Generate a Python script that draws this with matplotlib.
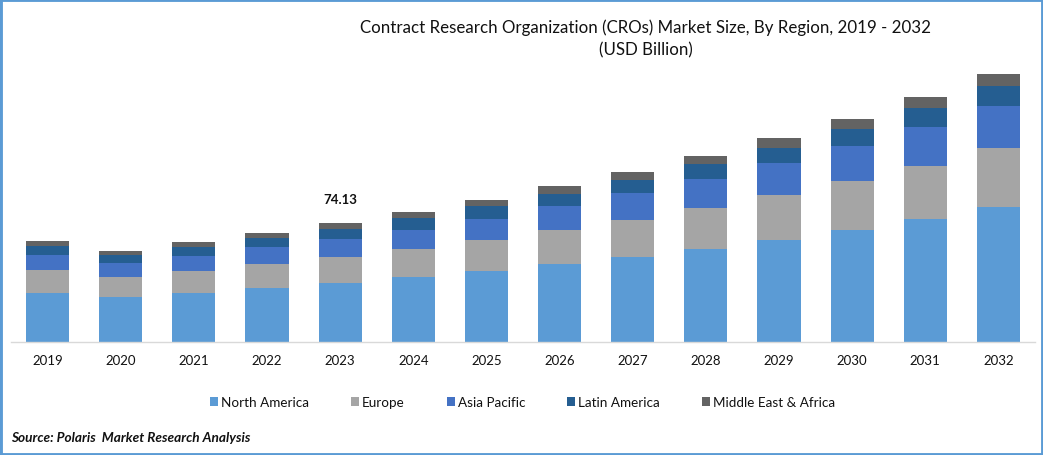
import matplotlib
matplotlib.use("Agg")
import matplotlib.pyplot as plt
import numpy as np
from matplotlib.patches import Rectangle

plt.rcParams['font.family'] = ['Lato', 'DejaVu Sans']

years = [2019, 2020, 2021, 2022, 2023, 2024, 2025, 2026, 2027, 2028, 2029, 2030, 2031, 2032]
north_america = [30.5, 28.0, 30.5, 33.6, 36.8, 40.5, 44.2, 48.6, 53.0, 57.9, 63.5, 69.8, 76.6, 84.1]
europe = [14.3, 12.5, 13.7, 15.0, 16.2, 17.4, 19.3, 21.2, 23.1, 25.5, 28.0, 30.5, 33.0, 36.8]
asia_pacific = [9.3, 8.7, 9.3, 10.6, 11.2, 11.8, 13.1, 15.0, 16.8, 18.1, 19.9, 21.8, 24.3, 26.2]
latin_america = [5.6, 5.0, 5.6, 5.6, 6.2, 7.5, 8.1, 7.5, 8.1, 9.3, 9.3, 10.6, 11.8, 12.5]
middle_east_africa = [3.1, 2.5, 3.1, 3.1, 3.7, 3.7, 3.7, 5.0, 5.0, 5.0, 6.2, 6.2, 6.9, 7.5]

series = [
    ("North America", north_america, "#5B9BD5"),
    ("Europe", europe, "#A5A5A5"),
    ("Asia Pacific", asia_pacific, "#4472C4"),
    ("Latin America", latin_america, "#255E91"),
    ("Middle East & Africa", middle_east_africa, "#636363"),
]

W, H = 1043, 456
fig = plt.figure(figsize=(W / 100, H / 100), dpi=100)
# axes box in pixels: x 11-1035, baseline at y=343
ax = fig.add_axes([11 / W, (H - 343) / H, 1024 / W, 282 / H])

x = np.arange(len(years))
bottom = np.zeros(len(years))
for name, values, color in series:
    ax.bar(x, values, width=0.59, bottom=bottom, color=color, label=name, linewidth=0)
    bottom += np.array(values)

ax.set_xlim(-0.5, 13.5)
ax.set_ylim(0, 175.7)
ax.set_xticks(x, [str(y) for y in years], fontsize=9.5, color="#111111")
ax.set_yticks([])
ax.tick_params(axis="x", length=0, pad=9)
for side in ("top", "left", "right"):
    ax.spines[side].set_visible(False)
ax.spines["bottom"].set_color("#D9D9D9")
ax.spines["bottom"].set_linewidth(1.0)

ax.text(x[4], bottom[4] + 11.2, "74.13", ha="center", va="bottom", fontsize=9.5,
        fontweight="bold", color="#111111")

fig.text(646 / W, 1 - 39 / H, "Contract Research Organization (CROs) Market Size, By Region, 2019 - 2032\n(USD Billion)",
         ha="center", va="center", fontsize=12.15, color="#111111", linespacing=1.5)

fig.legend(loc="center", bbox_to_anchor=(522.5 / W, 1 - 403.5 / H), ncols=5, frameon=False,
           fontsize=9.7, handlelength=0.6, handleheight=0.6, handletextpad=0.22,
           columnspacing=3.1, labelcolor="#111111")

fig.text(11 / W, 1 - 438 / H, "Source: Polaris  Market Research Analysis", ha="left", va="center",
         fontsize=9.8, fontweight="bold", fontstyle="italic", color="#111111")

# blue frame around the whole picture
fig.add_artist(Rectangle((0, 0), 1, 1, transform=fig.transFigure, fill=False,
                         edgecolor="#5B9BD5", linewidth=3.5, clip_on=True))

fig.savefig("out.png", dpi=100)
